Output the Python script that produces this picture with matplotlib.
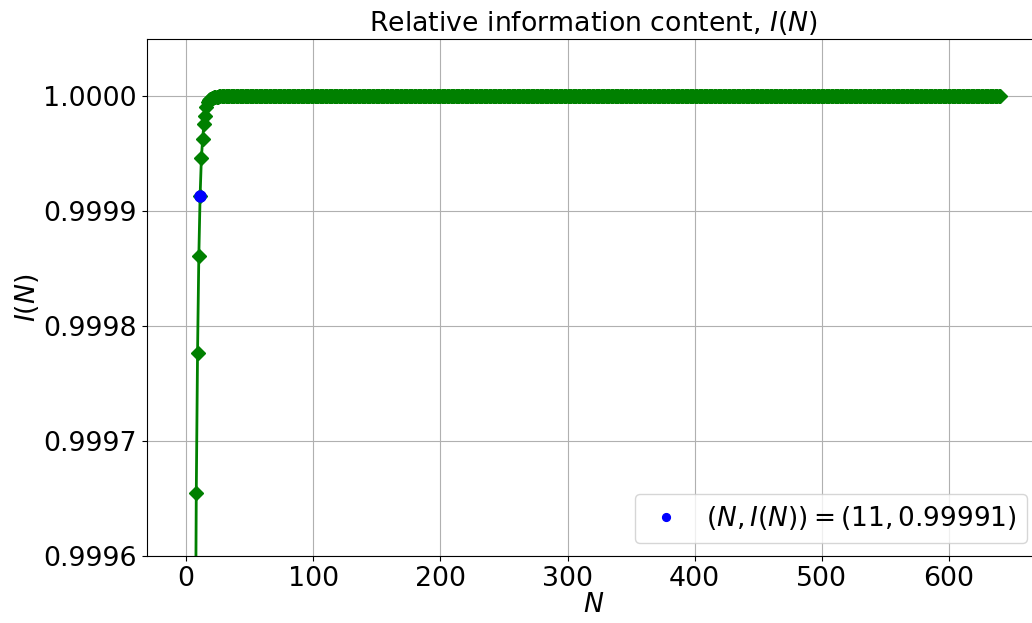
import numpy as np
import matplotlib
matplotlib.use("Agg")
import matplotlib.pyplot as plt

# Relative information content for N = 1..640
N_head = list(range(1, 26))
I_head = [0.99000, 0.99400, 0.99630, 0.99770, 0.99855, 0.99910, 0.99944,
          0.999655, 0.999777, 0.999861, 0.999913, 0.999946, 0.999963,
          0.999976, 0.999983, 0.999991, 0.9999948, 0.9999965, 0.9999976,
          0.9999983, 0.9999988, 0.9999991, 0.9999994, 0.9999996, 0.9999998]
N_tail = list(range(26, 641))
I_tail = [1.0] * len(N_tail)

N = np.array(N_head + N_tail)
I = np.array(I_head + I_tail)

N_sel = 11
I_sel = 0.999913

fs = 19.3

fig = plt.figure(figsize=(10.32, 6.23), dpi=100)
ax = fig.add_axes([0.1422, 0.1075, 0.8660, 0.8299])

ax.plot(N, I, color="green", marker="D", markersize=7.5, linewidth=2)
ax.plot([N_sel], [I_sel], "o", color="blue", markersize=8,
        label=r"$(N, I(N)) = (%d, %.5f)$" % (N_sel, I_sel))

ax.set_ylim(0.9996, 1.00005)
ax.set_yticks([0.9996, 0.9997, 0.9998, 0.9999, 1.0000])
ax.set_yticklabels(["0.9996", "0.9997", "0.9998", "0.9999", "1.0000"])
ax.set_xticks([0, 100, 200, 300, 400, 500, 600])
ax.tick_params(labelsize=fs)
ax.grid(True)

ax.set_title(r"Relative information content, $I(N)$", fontsize=fs)
ax.set_xlabel(r"$N$", fontsize=fs, labelpad=0)
ax.set_ylabel(r"$I(N)$", fontsize=fs, labelpad=2)
ax.legend(loc="lower right", fontsize=19, markerscale=0.7,
          handlelength=1.6, handletextpad=0.7)

fig.savefig("out.png", dpi=100)
